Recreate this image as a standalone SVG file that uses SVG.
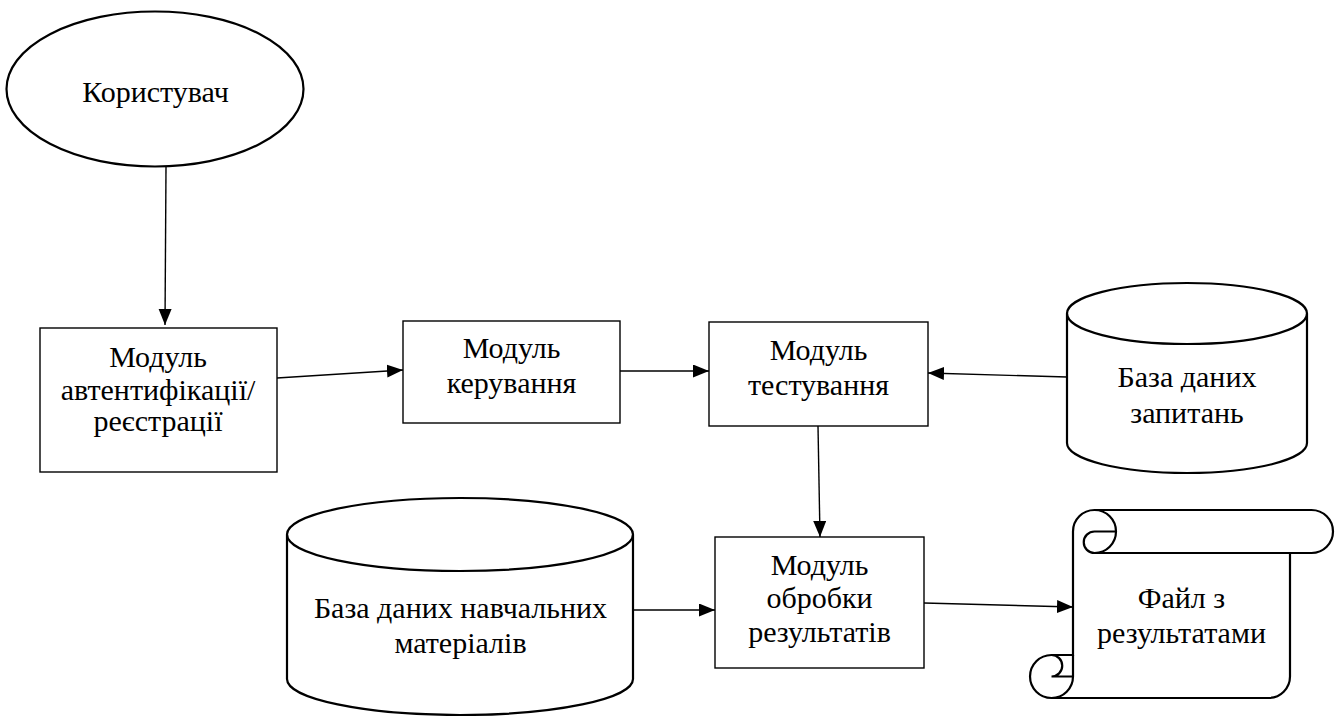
<svg xmlns="http://www.w3.org/2000/svg" width="1344" height="716" viewBox="0 0 1344 716">
<defs>
  <marker id="arrow" markerUnits="userSpaceOnUse" markerWidth="17" markerHeight="14" refX="16" refY="6.5" orient="auto">
    <path d="M0,0 L16,6.5 L0,13 z" fill="#000"/>
  </marker>
</defs>
<rect width="1344" height="716" fill="#fff"/>

<g id="user">
  <ellipse cx="155" cy="89" rx="148.5" ry="77.5" fill="#fff" stroke="#000" stroke-width="2.2"/>
  <text x="155.5" y="102" font-family="Times New Roman, serif" font-size="30" text-anchor="middle">Користувач</text>
</g>

<g id="auth">
  <rect x="40" y="328" width="237" height="144" fill="#fff" stroke="#000" stroke-width="1.4"/>
  <text x="158" y="367" font-family="Times New Roman, serif" font-size="30" text-anchor="middle">Модуль</text>
  <text x="158" y="400" font-family="Times New Roman, serif" font-size="30" text-anchor="middle">автентифікації/</text>
  <text x="158" y="431" font-family="Times New Roman, serif" font-size="30" text-anchor="middle">реєстрації</text>
</g>

<g id="control">
  <rect x="403" y="321" width="217" height="102" fill="#fff" stroke="#000" stroke-width="1.4"/>
  <text x="511.5" y="358" font-family="Times New Roman, serif" font-size="30" text-anchor="middle">Модуль</text>
  <text x="511.5" y="393" font-family="Times New Roman, serif" font-size="30" text-anchor="middle">керування</text>
</g>

<g id="testing">
  <rect x="709" y="322" width="219" height="104" fill="#fff" stroke="#000" stroke-width="1.4"/>
  <text x="818.5" y="360" font-family="Times New Roman, serif" font-size="30" text-anchor="middle">Модуль</text>
  <text x="818.5" y="395" font-family="Times New Roman, serif" font-size="30" text-anchor="middle">тестування</text>
</g>

<g id="db-questions">
  <path d="M1067,313.5 L1067,443 A120,30 0 0 0 1307,443 L1307,313.5 A120,30.5 0 0 0 1067,313.5 Z" fill="#fff" stroke="#000" stroke-width="2.2"/>
  <path d="M1067,313.5 A120,30.5 0 0 0 1307,313.5" fill="none" stroke="#000" stroke-width="2.2"/>
  <text x="1187" y="387" font-family="Times New Roman, serif" font-size="30" text-anchor="middle">База даних</text>
  <text x="1187" y="423" font-family="Times New Roman, serif" font-size="30" text-anchor="middle">запитань</text>
</g>

<g id="db-materials">
  <path d="M287,534.5 L287,679 A173,36 0 0 0 633,679 L633,534.5 A173,36.5 0 0 0 287,534.5 Z" fill="#fff" stroke="#000" stroke-width="2.2"/>
  <path d="M287,534.5 A173,36.5 0 0 0 633,534.5" fill="none" stroke="#000" stroke-width="2.2"/>
  <text x="460.5" y="618" font-family="Times New Roman, serif" font-size="30" text-anchor="middle">База даних навчальних</text>
  <text x="460.5" y="653" font-family="Times New Roman, serif" font-size="30" text-anchor="middle">матеріалів</text>
</g>

<g id="processing">
  <rect x="715" y="537" width="209" height="131" fill="#fff" stroke="#000" stroke-width="1.4"/>
  <text x="819.5" y="575" font-family="Times New Roman, serif" font-size="30" text-anchor="middle">Модуль</text>
  <text x="819.5" y="608" font-family="Times New Roman, serif" font-size="30" text-anchor="middle">обробки</text>
  <text x="819.5" y="642" font-family="Times New Roman, serif" font-size="30" text-anchor="middle">результатів</text>
</g>

<g id="results-file">
  <path d="M1073,655 L1073,531.5 A21.5,21.5 0 0 1 1094.5,510 L1311.5,510 A21.5,21.5 0 0 1 1311.5,553 L1290,553 L1290,676.5 A21.5,21.5 0 0 1 1268.5,698 L1051.5,698 A21.5,21.5 0 0 1 1051.5,655 Z" fill="#fff" stroke="#000" stroke-width="2.2"/>
  <path d="M1094.5,510 A21.5,21.5 0 0 1 1094.5,553 A10.75,10.75 0 0 1 1094.5,531.5 L1116,531.5" fill="none" stroke="#000" stroke-width="2.2"/>
  <path d="M1290,553 L1094.5,553" fill="none" stroke="#000" stroke-width="2.2"/>
  <path d="M1051.5,655 A10.75,10.75 0 0 1 1051.5,676.5 L1073,676.5" fill="none" stroke="#000" stroke-width="2.2"/>
  <path d="M1051.5,698 A21.5,21.5 0 0 0 1073,676.5 L1073,655" fill="none" stroke="#000" stroke-width="2.2"/>
  <text x="1181.5" y="608" font-family="Times New Roman, serif" font-size="30" text-anchor="middle">Файл з</text>
  <text x="1181.5" y="643" font-family="Times New Roman, serif" font-size="30" text-anchor="middle">результатами</text>
</g>

<g id="connectors" fill="none" stroke="#000" stroke-width="1.4" marker-end="url(#arrow)">
  <line x1="166" y1="167" x2="165" y2="325"/>
  <line x1="277" y1="378" x2="403" y2="370"/>
  <line x1="620" y1="371" x2="709" y2="371"/>
  <line x1="1067" y1="377" x2="928" y2="373"/>
  <line x1="818" y1="426" x2="820" y2="537"/>
  <line x1="633" y1="610" x2="715" y2="610"/>
  <line x1="924" y1="603" x2="1073" y2="607"/>
</g>
</svg>
